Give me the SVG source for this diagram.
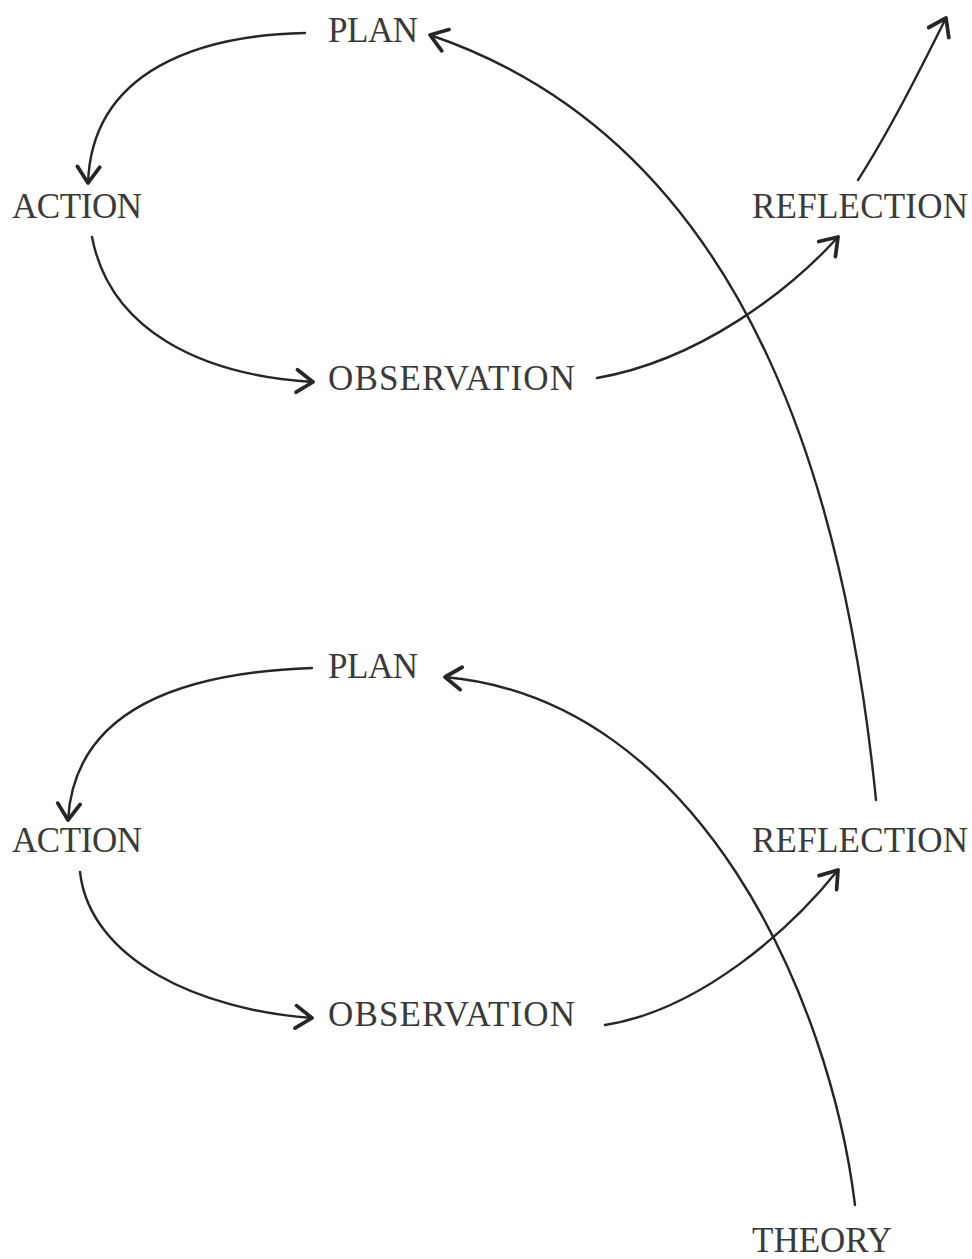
<svg xmlns="http://www.w3.org/2000/svg" width="972" height="1259" viewBox="0 0 972 1259">
<style>
.lbl{font-family:"Liberation Serif","Times New Roman",serif;font-size:35px;fill:#3a3a3a;}
.c{fill:none;stroke:#262626;stroke-width:2.4;stroke-linecap:round;}
</style>
<defs>
<marker id="ah" markerUnits="userSpaceOnUse" markerWidth="30" markerHeight="30" viewBox="-16 -12 20 24" refX="0" refY="0" orient="auto">
<path d="M-13,-9 L0,0 L-13,9" fill="none" stroke="#262626" stroke-width="3" stroke-linecap="round" stroke-linejoin="round"/>
</marker>
</defs>
<rect width="972" height="1259" fill="#ffffff"/>
<g id="connectors">
<path class="c" marker-end="url(#ah)" d="M305,33 C200,35 92,70 88,183"/>
<path class="c" marker-end="url(#ah)" d="M92,237 C110,330 200,375 313,382"/>
<path class="c" marker-end="url(#ah)" d="M597,378 C700,360 790,290 838,237"/>
<path class="c" marker-end="url(#ah)" d="M858,180 C890,130 920,70 946,18"/>
<path class="c" marker-end="url(#ah)" d="M876,800 C850,540 770,150 430,35"/>
<path class="c" marker-end="url(#ah)" d="M312,668 C200,672 75,700 68,820"/>
<path class="c" marker-end="url(#ah)" d="M80,872 C90,960 200,1010 312,1018"/>
<path class="c" marker-end="url(#ah)" d="M605,1025 C700,1010 790,930 838,870"/>
<path class="c" marker-end="url(#ah)" d="M855,1205 C830,1000 700,700 445,677"/>
</g>
<g id="plan1"><text class="lbl" x="328" y="42" textLength="90">PLAN</text></g>
<g id="action1"><text class="lbl" x="12" y="218" textLength="130">ACTION</text></g>
<g id="observation1"><text class="lbl" x="328" y="390" textLength="247">OBSERVATION</text></g>
<g id="reflection1"><text class="lbl" x="752" y="218" textLength="216">REFLECTION</text></g>
<g id="plan2"><text class="lbl" x="328" y="678" textLength="90">PLAN</text></g>
<g id="action2"><text class="lbl" x="12" y="852" textLength="130">ACTION</text></g>
<g id="observation2"><text class="lbl" x="328" y="1026" textLength="247">OBSERVATION</text></g>
<g id="reflection2"><text class="lbl" x="752" y="852" textLength="216">REFLECTION</text></g>
<g id="theory"><text class="lbl" x="752" y="1252" textLength="140">THEORY</text></g>
</svg>
